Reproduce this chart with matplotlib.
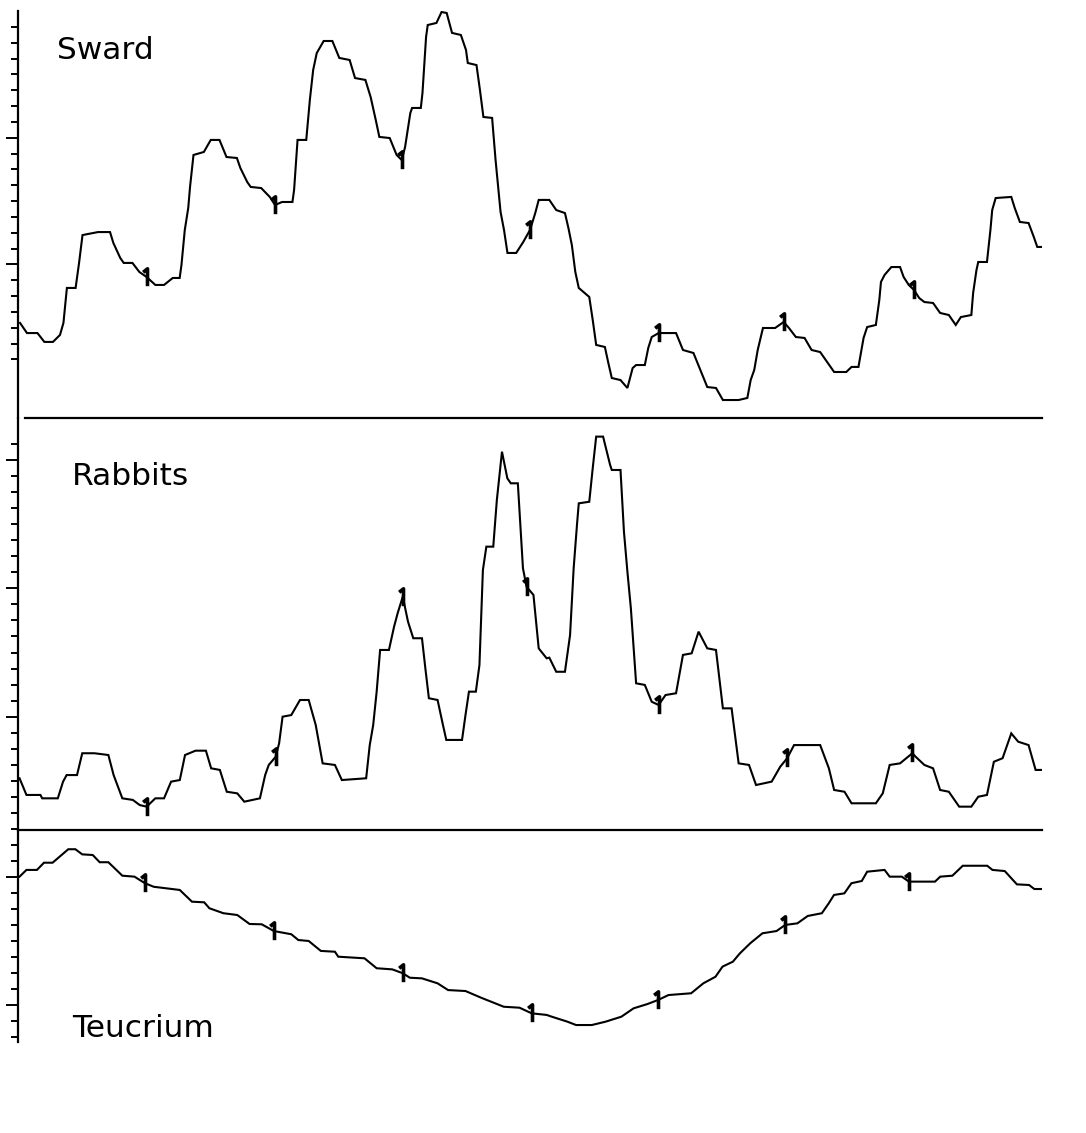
import numpy as np
import matplotlib
matplotlib.use('Agg')
import matplotlib.pyplot as plt
import matplotlib.ticker as mticker
from matplotlib.path import Path

# time axis: one unit between successive "+" marks, 8 units across the plot
SWARD_X = [0.016, 0.070, 0.152, 0.206, 0.273, 0.328, 0.355, 0.382, 0.450, 0.477,
           0.504, 0.625, 0.719, 0.745, 0.799, 0.826, 0.894, 0.948, 1.005, 1.073,
           1.141, 1.209, 1.263, 1.277, 1.303, 1.330, 1.344, 1.371, 1.452, 1.506,
           1.574, 1.629, 1.710, 1.737, 1.791, 1.818, 1.900, 1.967, 2.008, 2.063,
           2.144, 2.157, 2.184, 2.252, 2.280, 2.306, 2.334, 2.388, 2.456, 2.510,
           2.591, 2.633, 2.714, 2.755, 2.795, 2.823, 2.904, 2.958, 2.998, 3.024,
           3.065, 3.079, 3.147, 3.160, 3.188, 3.201, 3.269, 3.309, 3.349, 3.391,
           3.460, 3.500, 3.514, 3.582, 3.609, 3.636, 3.704, 3.731, 3.770, 3.797,
           3.824, 3.892, 3.947, 4.000, 4.041, 4.068, 4.151, 4.205, 4.273, 4.300,
           4.327, 4.354, 4.381, 4.463, 4.490, 4.517, 4.585, 4.612, 4.639, 4.707,
           4.761, 4.802, 4.829, 4.897, 4.924, 4.951, 5.005, 5.141, 5.195, 5.277,
           5.331, 5.385, 5.453, 5.507, 5.630, 5.698, 5.724, 5.752, 5.779, 5.820,
           5.915, 5.982, 6.023, 6.077, 6.145, 6.200, 6.267, 6.322, 6.376, 6.471,
           6.512, 6.566, 6.606, 6.634, 6.702, 6.729, 6.742, 6.770, 6.823, 6.891,
           6.919, 6.959, 7.000, 7.041, 7.081, 7.149, 7.204, 7.272, 7.326, 7.366,
           7.448, 7.462, 7.488, 7.502, 7.570, 7.597, 7.611, 7.638, 7.760, 7.787,
           7.827, 7.895, 7.936, 7.963, 8.004]
SWARD_Y = [4.30, 3.66, 3.66, 3.10, 3.10, 3.54, 4.30, 6.51, 6.51, 8.09,
           9.85, 10.04, 10.04, 9.35, 8.40, 8.09, 8.09, 7.52, 7.20, 6.70,
           6.70, 7.14, 7.14, 7.96, 10.17, 11.56, 12.89, 14.91, 15.10, 15.86,
           15.86, 14.78, 14.72, 14.09, 13.20, 12.89, 12.82, 12.26, 11.75, 11.94,
           11.94, 12.70, 15.86, 15.86, 18.38, 20.28, 21.35, 22.11, 22.11, 21.04,
           20.91, 19.77, 19.65, 18.57, 17.12, 16.05, 15.98, 14.91, 14.59, 15.41,
           17.56, 17.88, 17.88, 18.83, 22.36, 23.12, 23.25, 23.94, 23.88, 22.62,
           22.49, 21.54, 20.72, 20.59, 19.01, 17.31, 17.25, 14.59, 11.31, 10.17,
           8.72, 8.72, 9.41, 10.17, 11.24, 12.07, 12.07, 11.43, 11.24, 10.30,
           9.22, 7.52, 6.51, 5.94, 4.49, 2.91, 2.78, 1.77, 0.82, 0.69,
           0.19, 1.45, 1.64, 1.64, 2.72, 3.41, 3.66, 3.66, 2.59, 2.40,
           1.33, 0.25, 0.19, -0.57, -0.57, -0.44, 0.69, 1.33, 2.59, 3.98,
           3.98, 4.36, 3.98, 3.41, 3.35, 2.59, 2.46, 1.83, 1.20, 1.20,
           1.52, 1.52, 3.35, 4.04, 4.17, 5.75, 6.89, 7.33, 7.83, 7.83,
           7.20, 6.70, 6.38, 5.87, 5.62, 5.56, 4.93, 4.80, 4.17, 4.67,
           4.80, 6.19, 7.64, 8.15, 8.15, 10.17, 11.43, 12.19, 12.26, 11.56,
           10.68, 10.61, 9.73, 9.10, 9.10]

RABBIT_X = [0.012, 0.066, 0.175, 0.189, 0.311, 0.352, 0.380, 0.461, 0.502, 0.597,
            0.706, 0.747, 0.815, 0.897, 0.951, 1.005, 1.073, 1.141, 1.196, 1.264,
            1.305, 1.387, 1.468, 1.509, 1.577, 1.631, 1.713, 1.768, 1.890, 1.931,
            1.959, 2.013, 2.040, 2.067, 2.135, 2.203, 2.271, 2.326, 2.380, 2.476,
            2.530, 2.720, 2.748, 2.775, 2.802, 2.829, 2.898, 2.938, 2.966, 3.006,
            3.047, 3.088, 3.156, 3.184, 3.210, 3.278, 3.320, 3.346, 3.469, 3.496,
            3.523, 3.577, 3.605, 3.632, 3.659, 3.713, 3.741, 3.781, 3.823, 3.850,
            3.905, 3.945, 3.973, 4.027, 4.068, 4.130, 4.151, 4.205, 4.273, 4.313,
            4.341, 4.368, 4.381, 4.463, 4.490, 4.517, 4.571, 4.626, 4.639, 4.707,
            4.734, 4.761, 4.788, 4.829, 4.897, 4.951, 5.005, 5.059, 5.141, 5.195,
            5.263, 5.317, 5.385, 5.453, 5.507, 5.575, 5.630, 5.711, 5.766, 5.888,
            5.955, 6.009, 6.063, 6.199, 6.267, 6.335, 6.376, 6.457, 6.512, 6.702,
            6.756, 6.810, 6.891, 6.987, 7.013, 7.081, 7.149, 7.204, 7.272, 7.353,
            7.448, 7.502, 7.570, 7.624, 7.692, 7.760, 7.814, 7.895, 7.950, 8.004]
RABBIT_Y = [4.16, 3.12, 3.12, 2.91, 2.91, 3.95, 4.36, 4.36, 5.72, 5.72,
            5.61, 4.36, 2.91, 2.81, 2.49, 2.39, 2.91, 2.91, 3.95, 4.05,
            5.61, 5.88, 5.88, 4.78, 4.68, 3.32, 3.22, 2.70, 2.91, 4.36,
            4.99, 5.50, 6.34, 8.00, 8.10, 9.04, 9.04, 7.48, 5.09, 4.99,
            4.05, 4.16, 6.23, 7.48, 9.56, 12.16, 12.16, 13.61, 14.45, 15.48,
            13.92, 12.89, 12.89, 10.91, 9.15, 9.04, 7.48, 6.55, 6.55, 8.10,
            9.56, 9.56, 11.22, 17.14, 18.60, 18.60, 21.51, 24.52, 22.86, 22.55,
            22.55, 17.25, 16.10, 15.59, 12.26, 11.64, 11.68, 10.80, 10.80, 13.09,
            17.25, 20.06, 21.30, 21.40, 23.49, 25.46, 25.46, 23.69, 23.38, 23.38,
            19.53, 17.04, 14.76, 10.08, 9.98, 8.93, 8.73, 9.35, 9.46, 11.85,
            11.95, 13.30, 12.26, 12.16, 8.52, 8.52, 5.09, 4.99, 3.74, 3.95,
            4.88, 5.41, 6.23, 6.23, 6.23, 4.78, 3.43, 3.32, 2.60, 2.60,
            3.22, 4.99, 5.09, 5.72, 5.50, 4.99, 4.78, 3.43, 3.32, 2.39,
            2.39, 3.01, 3.12, 5.19, 5.41, 6.96, 6.44, 6.23, 4.68, 4.68]

TEUC_X = [0.012, 0.066, 0.148, 0.203, 0.270, 0.393, 0.448, 0.502, 0.584, 0.638,
          0.706, 0.815, 0.910, 0.992, 1.060, 1.264, 1.359, 1.455, 1.495, 1.605,
          1.713, 1.809, 1.904, 1.999, 2.135, 2.190, 2.271, 2.366, 2.476, 2.502,
          2.707, 2.802, 2.924, 3.006, 3.061, 3.156, 3.278, 3.360, 3.496, 3.619,
          3.795, 3.918, 4.013, 4.130, 4.170, 4.292, 4.360, 4.483, 4.591, 4.714,
          4.809, 4.918, 5.000, 5.082, 5.259, 5.354, 5.449, 5.504, 5.585, 5.640,
          5.721, 5.816, 5.926, 5.994, 6.089, 6.170, 6.280, 6.334, 6.375, 6.456,
          6.511, 6.592, 6.634, 6.770, 6.810, 6.905, 6.960, 7.164, 7.205, 7.300,
          7.381, 7.572, 7.613, 7.709, 7.804, 7.899, 7.940, 8.008]
TEUC_Y = [16.00, 16.42, 16.42, 16.87, 16.87, 17.71, 17.71, 17.39, 17.35, 16.90,
          16.90, 16.06, 16.00, 15.59, 15.37, 15.17, 14.44, 14.40, 14.03, 13.72,
          13.61, 13.05, 13.03, 12.61, 12.41, 12.05, 11.99, 11.37, 11.32, 11.01,
          10.91, 10.29, 10.22, 9.98, 9.70, 9.66, 9.35, 8.93, 8.87, 8.45,
          7.89, 7.83, 7.48, 7.38, 7.27, 6.96, 6.75, 6.75, 6.96, 7.27,
          7.79, 8.06, 8.31, 8.62, 8.73, 9.35, 9.76, 10.39, 10.70, 11.22,
          11.85, 12.47, 12.61, 12.99, 13.09, 13.55, 13.72, 14.34, 14.86, 14.96,
          15.59, 15.73, 16.31, 16.42, 16.00, 16.00, 15.69, 15.69, 16.00, 16.06,
          16.68, 16.68, 16.42, 16.35, 15.52, 15.48, 15.23, 15.23]

MARK_TIMES = [1, 2, 3, 4, 5, 6, 7]

# "1"-shaped tick mark drawn on the curve at each whole time step
TICK_MARK = Path([(0, -1), (0, 1), (-0.5, 0.6)],
                 [Path.MOVETO, Path.LINETO, Path.LINETO])

W, H = 1086, 1133
fig = plt.figure(figsize=(W / 100, H / 100), dpi=100)
fig.patch.set_facecolor('white')

LEFT = 18 / W
WIDTH = 1024 / W

panels = [
    # name, x, y, (top px, bottom px), ylim, minor ticks, major ticks, label pos
    ('Sward', SWARD_X, SWARD_Y, (11, 418), (-1.706, 24.005),
     range(2, 24), [8, 16], (0.038, 0.902)),
    ('Rabbits', RABBIT_X, RABBIT_Y, (418, 830), (0.935, 26.621),
     range(1, 26), [8, 16, 24], (0.053, 0.859)),
    ('Teucrium', TEUC_X, TEUC_Y, (830, 1042), (5.692, 18.909),
     range(6, 19), [8, 16], (0.053, 0.066)),
]

for name, xs, ys, (top_px, bot_px), ylim, minors, majors, lab in panels:
    ax = fig.add_axes([LEFT, 1 - bot_px / H, WIDTH, (bot_px - top_px) / H])
    ax.set_xlim(0, 8)
    ax.set_ylim(*ylim)
    ax.patch.set_alpha(0)

    xs = np.array(xs)
    marks = [int(np.argmin(np.abs(xs - t))) for t in MARK_TIMES]
    ax.plot(xs, ys, color='black', linewidth=1.5, solid_joinstyle='miter',
            marker=TICK_MARK, markevery=marks, markersize=12.5,
            markeredgewidth=2.6, fillstyle='none', markeredgecolor='black')

    for side in ['top', 'right']:
        ax.spines[side].set_visible(False)
    ax.spines['left'].set_linewidth(1.6)
    if name == 'Teucrium':
        ax.spines['bottom'].set_visible(False)
    else:
        ax.spines['bottom'].set_linewidth(1.6)
        if name == 'Sward':
            ax.spines['bottom'].set_bounds(0.055, 8.0)

    ax.xaxis.set_visible(False)
    ax.yaxis.set_major_locator(mticker.FixedLocator(majors))
    ax.yaxis.set_minor_locator(mticker.FixedLocator([m for m in minors if m not in majors]))
    ax.yaxis.set_major_formatter(mticker.NullFormatter())
    ax.tick_params(axis='y', which='major', length=9, width=1.4, direction='out')
    ax.tick_params(axis='y', which='minor', length=5, width=1.4, direction='out')

    ax.text(lab[0], lab[1], name, transform=ax.transAxes, fontsize=22.5,
            family='DejaVu Sans', va='center', ha='left', color='black')

fig.savefig('out.png', dpi=100, facecolor='white')
